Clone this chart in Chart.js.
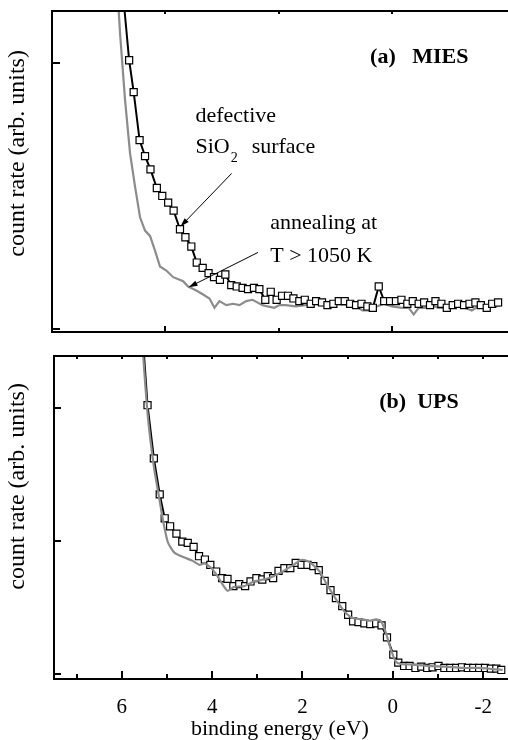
<!DOCTYPE html>
<html>
<head>
<meta charset="utf-8">
<title>MIES / UPS</title>
<script src="https://cdn.jsdelivr.net/npm/chart.js@4"></script>
<style>
  html, body { margin: 0; padding: 0; background: #fff; overflow: hidden; }
  canvas { position: absolute; left: 0; }
  #mies { top: 0; }
  #ups { top: 344px; }
</style>
</head>
<body>
<canvas id="mies" width="512" height="344"></canvas>
<canvas id="ups" width="512" height="396"></canvas>
<script>
"use strict";

// binding energy (eV) and count rate (arb. units)
var miesEnergy = [5.93, 5.80, 5.70, 5.57, 5.45, 5.33, 5.19, 5.07, 4.94, 4.82,
  4.68, 4.56, 4.43, 4.31, 4.18, 4.05, 3.93, 3.80, 3.68, 3.55,
  3.43, 3.30, 3.18, 3.05, 2.93, 2.80, 2.68, 2.55, 2.43, 2.30,
  2.18, 2.05, 1.93, 1.80, 1.68, 1.55, 1.43, 1.30, 1.18, 1.05,
  0.93, 0.80, 0.68, 0.55, 0.43, 0.30, 0.18, 0.05, -0.08, -0.20,
  -0.33, -0.45, -0.58, -0.70, -0.83, -0.95, -1.08, -1.20, -1.33, -1.45,
  -1.58, -1.70, -1.83, -1.95, -2.08, -2.20, -2.33];
var miesDefective = [125, 101, 89, 71, 65, 60, 53, 50, 47.5, 44.5,
  37.5, 34.5, 31, 25, 23, 21, 19.5, 18.5, 20.5, 16.5,
  16, 15.5, 15, 15.5, 15, 11, 14, 11, 12.5, 12.5,
  11.5, 10.5, 11, 9.5, 10.5, 10, 9, 9.5, 10.5, 10.5,
  9.5, 9, 9.5, 8.5, 8, 16, 10.5, 10.5, 10.5, 11,
  9.5, 10.5, 9.5, 10, 9, 10.5, 9.5, 8, 9, 9.5,
  9, 9.5, 10, 9, 8, 9.5, 10];

var miesAnnealedEnergy = [6.05, 6.00, 5.89, 5.78, 5.67, 5.56, 5.45, 5.34, 5.23, 5.12,
  4.98, 4.83, 4.61, 4.50, 4.32, 4.17, 4.03, 3.92, 3.81, 3.66,
  3.51, 3.37, 3.22, 3.08, 2.86, 2.75, 2.60, 2.49, 2.35, 2.13,
  1.91, 1.69, 1.54, 1.40, 1.18, 0.96, 0.74, 0.66, 0.52, 0.34,
  0.19, 0.01, -0.21, -0.36, -0.47, -0.58, -0.72, -0.87, -1.01, -1.23,
  -1.45, -1.60, -1.75, -1.89, -2.04, -2.26, -2.40];
var miesAnnealed = [125, 111, 86, 66, 53.5, 42, 37, 35, 29.5, 23.5,
  22, 19.5, 18, 16, 14.5, 13, 11.5, 8, 10.5, 9,
  9.5, 9, 10.5, 11, 9, 8.5, 8, 9, 9, 8.5,
  9, 9.5, 9, 9, 9.5, 9, 8, 7, 7, 8.5,
  9.5, 8.5, 8, 8, 5.5, 8, 8, 9, 8, 8,
  8.5, 8, 7, 8.5, 8, 8.5, 9];

var upsEnergy = [5.56, 5.43, 5.29, 5.16, 5.05, 4.93, 4.79, 4.66, 4.54, 4.41,
  4.29, 4.16, 4.04, 3.91, 3.78, 3.66, 3.53, 3.40, 3.27, 3.15,
  3.02, 2.89, 2.77, 2.65, 2.53, 2.40, 2.27, 2.15, 2.02, 1.89,
  1.76, 1.64, 1.51, 1.38, 1.26, 1.12, 0.99, 0.88, 0.76, 0.63,
  0.50, 0.37, 0.25, 0.13, -0.01, -0.12, -0.25, -0.37, -0.50, -0.63,
  -0.76, -0.88, -1.01, -1.14, -1.27, -1.40, -1.53, -1.66, -1.78, -1.91,
  -2.04, -2.17, -2.29, -2.40];
var upsDefective = [265, 202, 162, 135, 117, 111, 105.5, 99.5, 98.5, 95.5,
  88.5, 86, 82, 77, 72, 71.5, 66, 67.5, 66, 69.5,
  72, 71, 73.5, 72, 77.5, 79.5, 79.5, 83.5, 82, 82,
  81, 78, 70, 63, 57, 51, 44.5, 39.5, 39, 38,
  37.5, 38, 36.5, 27.5, 14.5, 8.5, 6, 6, 4.5, 5.5,
  4.5, 5, 6, 4.5, 4.5, 4.5, 5, 4.5, 4.5, 4.5,
  4.5, 4, 4, 3];

var upsAnnealedEnergy = [5.58, 5.43, 5.29, 5.16, 5.09, 4.98, 4.83, 4.61, 4.43, 4.28,
  4.17, 4.03, 3.88, 3.81, 3.66, 3.51, 3.29, 3.08, 2.86, 2.64,
  2.42, 2.20, 2.05, 1.94, 1.80, 1.62, 1.47, 1.32, 1.18, 1.03,
  0.88, 0.66, 0.52, 0.37, 0.26, 0.15, 0.04, -0.07, -0.18, -0.43,
  -0.80, -1.16, -1.53, -1.89, -2.26, -2.43];
var upsAnnealed = [265, 196, 156, 130, 116, 99, 91, 87.5, 85, 82,
  83, 80, 73.5, 69.5, 62.5, 65.5, 66, 69.5, 71, 73.5,
  77.5, 82, 85.5, 85.5, 83, 77, 68, 59.5, 52, 45.5,
  42, 41, 40, 41, 39.5, 30.5, 18, 9, 7.5, 7,
  6, 5.5, 4.5, 4.5, 3.5, 3];

// tick positions along the energy axis, and which of them carry a label
var miesEnergyTicks = [5, 2.5, 0];
var upsEnergyTicks = [7, 6, 5, 4, 3, 2, 1, 0, -1, -2];
var energyTickLabels = [6, 4, 2, 0, -2];

var SERIF = "'Liberation Serif', 'Times New Roman', serif";

function pts(xs, ys) {
  return xs.map(function (x, i) {
    return { x: x, y: ys[i] };
  });
}

function fixedTicks(values) {
  return function (scale) {
    scale.ticks = values.map(function (v) {
      return { value: v };
    });
  };
}

// frame and inward tick marks, like the original plotting program
var frame = {
  id: "frame",
  afterDatasetsDraw: function (chart, args, o) {
    var ctx = chart.ctx;
    var a = chart.chartArea;
    var xs = chart.scales.x;
    var ys = chart.scales.y;
    ctx.save();
    ctx.strokeStyle = "#000";
    ctx.lineWidth = 2;
    ctx.beginPath();
    ctx.moveTo(a.left - 1, a.top);
    ctx.lineTo(a.right + 4, a.top);
    ctx.moveTo(a.left, a.top - 1);
    ctx.lineTo(a.left, a.bottom + 1);
    ctx.moveTo(a.left - 1, a.bottom);
    ctx.lineTo(a.right + 4, a.bottom);
    xs.ticks.forEach(function (t) {
      var px = Math.round(xs.getPixelForValue(t.value));
      if (px < a.left + 3 || px > a.right) return;
      var r = t.value / o.xMajor;
      var major = Math.abs(r - Math.round(r)) < 1e-6;
      ctx.moveTo(px, a.bottom);
      ctx.lineTo(px, a.bottom - (major ? o.majorLen : o.minorLen));
      ctx.moveTo(px, a.top);
      ctx.lineTo(px, a.top + o.topLen);
    });
    ys.ticks.forEach(function (t) {
      var py = Math.round(ys.getPixelForValue(t.value));
      ctx.moveTo(a.left, py);
      ctx.lineTo(a.left + o.yLen, py);
    });
    ctx.stroke();
    ctx.restore();
  }
};

// text labels, arrows and the side title, placed in data coordinates
var notes = {
  id: "notes",
  afterDraw: function (chart, args, o) {
    var ctx = chart.ctx;
    var xs = chart.scales.x;
    var ys = chart.scales.y;
    ctx.save();
    ctx.fillStyle = "#000";
    ctx.strokeStyle = "#000";
    ctx.textBaseline = "alphabetic";
    ctx.textAlign = "left";
    (o.texts || []).forEach(function (t) {
      var x = xs.getPixelForValue(t.at[0]);
      var y = ys.getPixelForValue(t.at[1]);
      ctx.font = t.font;
      ctx.fillText(t.text, x, y);
      if (t.sub) {
        var w = ctx.measureText(t.text).width;
        ctx.font = t.subFont;
        ctx.fillText(t.sub, x + w + 1, y + 9);
        var w2 = ctx.measureText(t.sub).width;
        ctx.font = t.font;
        ctx.fillText(t.after, x + w + w2 + 15, y);
      }
    });
    (o.arrows || []).forEach(function (ar) {
      var x0 = xs.getPixelForValue(ar.from[0]);
      var y0 = ys.getPixelForValue(ar.from[1]);
      var x1 = xs.getPixelForValue(ar.to[0]);
      var y1 = ys.getPixelForValue(ar.to[1]);
      var ang = Math.atan2(y1 - y0, x1 - x0);
      ctx.lineWidth = 1;
      ctx.beginPath();
      ctx.moveTo(x0, y0);
      ctx.lineTo(x1 - 6 * Math.cos(ang), y1 - 6 * Math.sin(ang));
      ctx.stroke();
      ctx.beginPath();
      ctx.moveTo(x1, y1);
      ctx.lineTo(x1 - 9 * Math.cos(ang) + 2.8 * Math.sin(ang), y1 - 9 * Math.sin(ang) - 2.8 * Math.cos(ang));
      ctx.lineTo(x1 - 9 * Math.cos(ang) - 2.8 * Math.sin(ang), y1 - 9 * Math.sin(ang) + 2.8 * Math.cos(ang));
      ctx.closePath();
      ctx.fill();
    });
    if (o.side) {
      ctx.save();
      ctx.translate(o.side.x, ys.getPixelForValue(o.side.at));
      ctx.rotate(-Math.PI / 2);
      ctx.font = o.side.font;
      ctx.textAlign = "center";
      ctx.textBaseline = "middle";
      ctx.fillText(o.side.text, 0, 0);
      ctx.restore();
    }
    ctx.restore();
  }
};

function squares(data, order) {
  return {
    data: data,
    borderColor: "#000",
    borderWidth: 2,
    pointStyle: "rect",
    pointRadius: 5,
    pointBackgroundColor: "#fff",
    pointBorderColor: "#000",
    pointBorderWidth: 1.2,
    tension: 0,
    order: order
  };
}

function grayLine(data, order, tension) {
  return {
    data: data,
    borderColor: "#8c8c8c",
    borderWidth: 2.2,
    pointRadius: 0,
    tension: tension,
    order: order
  };
}

var labelFont = "22px " + SERIF;
var boldFont = "bold 22px " + SERIF;
var sideFont = "24px " + SERIF;
var yTitleText = "count rate (arb. units)";

new Chart(document.getElementById("mies"), {
  type: "line",
  data: {
    datasets: [
      squares(pts(miesEnergy, miesDefective), 0),
      grayLine(pts(miesAnnealedEnergy, miesAnnealed), 1, 0)
    ]
  },
  options: {
    responsive: false,
    animation: false,
    events: [],
    layout: { padding: { top: 11, right: 2, left: 0, bottom: 0 } },
    plugins: {
      legend: { display: false },
      tooltip: { enabled: false },
      frame: { xMajor: 5, majorLen: 6, minorLen: 4, topLen: 3, yLen: 8 },
      notes: {
        side: { text: yTitleText, x: 18, at: 66, font: sideFont },
        texts: [
          { text: "(a)   MIES", at: [0.49, 99.8], font: boldFont },
          { text: "defective", at: [4.34, 77.9], font: labelFont },
          { text: "SiO", sub: "2", after: "surface", at: [4.34, 66.3], font: labelFont, subFont: "14px " + SERIF },
          { text: "annealing at", at: [2.69, 37.5], font: labelFont },
          { text: "T > 1050 K", at: [2.69, 25.3], font: labelFont }
        ],
        arrows: [
          { from: [3.54, 58.5], to: [4.67, 38.5] },
          { from: [2.96, 28.8], to: [4.49, 15.7] }
        ]
      }
    },
    scales: {
      x: {
        type: "linear",
        reverse: true,
        min: -2.5,
        max: 7.5,
        grid: { display: false },
        border: { display: false },
        ticks: { display: false },
        afterBuildTicks: fixedTicks(miesEnergyTicks),
        afterFit: function (s) { s.height = 12; }
      },
      y: {
        min: -1.1,
        max: 119.5,
        grid: { display: false },
        border: { display: false },
        ticks: { display: false, stepSize: 100, includeBounds: false },
        afterFit: function (s) { s.width = 52; }
      }
    }
  },
  plugins: [frame, notes]
});

new Chart(document.getElementById("ups"), {
  type: "line",
  data: {
    datasets: [
      squares(pts(upsEnergy, upsDefective), 1),
      grayLine(pts(upsAnnealedEnergy, upsAnnealed), 0, 0.2)
    ]
  },
  options: {
    responsive: false,
    animation: false,
    events: [],
    layout: { padding: { top: 12, right: 1, left: 0, bottom: 0 } },
    plugins: {
      legend: { display: false },
      tooltip: { enabled: false },
      frame: { xMajor: 2, majorLen: 8, minorLen: 5, topLen: 3, yLen: 7 },
      notes: {
        side: { text: yTitleText, x: 18, at: 141, font: sideFont },
        texts: [
          { text: "(b)  UPS", at: [0.30, 199.8], font: boldFont }
        ]
      }
    },
    scales: {
      x: {
        type: "linear",
        reverse: true,
        min: -2.5,
        max: 7.5,
        grid: { display: false },
        border: { display: false },
        afterBuildTicks: fixedTicks(upsEnergyTicks),
        ticks: {
          autoSkip: false,
          maxRotation: 0,
          padding: 8,
          color: "#000",
          font: { family: SERIF, size: 21 },
          callback: function (v) {
            return energyTickLabels.indexOf(v) >= 0 ? String(v) : "";
          }
        },
        title: {
          display: true,
          text: "binding energy (eV)",
          color: "#000",
          font: { family: SERIF, size: 22, lineHeight: 1 },
          padding: { top: 0, bottom: 0 }
        },
        afterFit: function (s) { s.height = 61; }
      },
      y: {
        min: -3.8,
        max: 239,
        grid: { display: false },
        border: { display: false },
        ticks: { display: false, stepSize: 100, includeBounds: false },
        afterFit: function (s) { s.width = 54; }
      }
    }
  },
  plugins: [frame, notes]
});
</script>
</body>
</html>
